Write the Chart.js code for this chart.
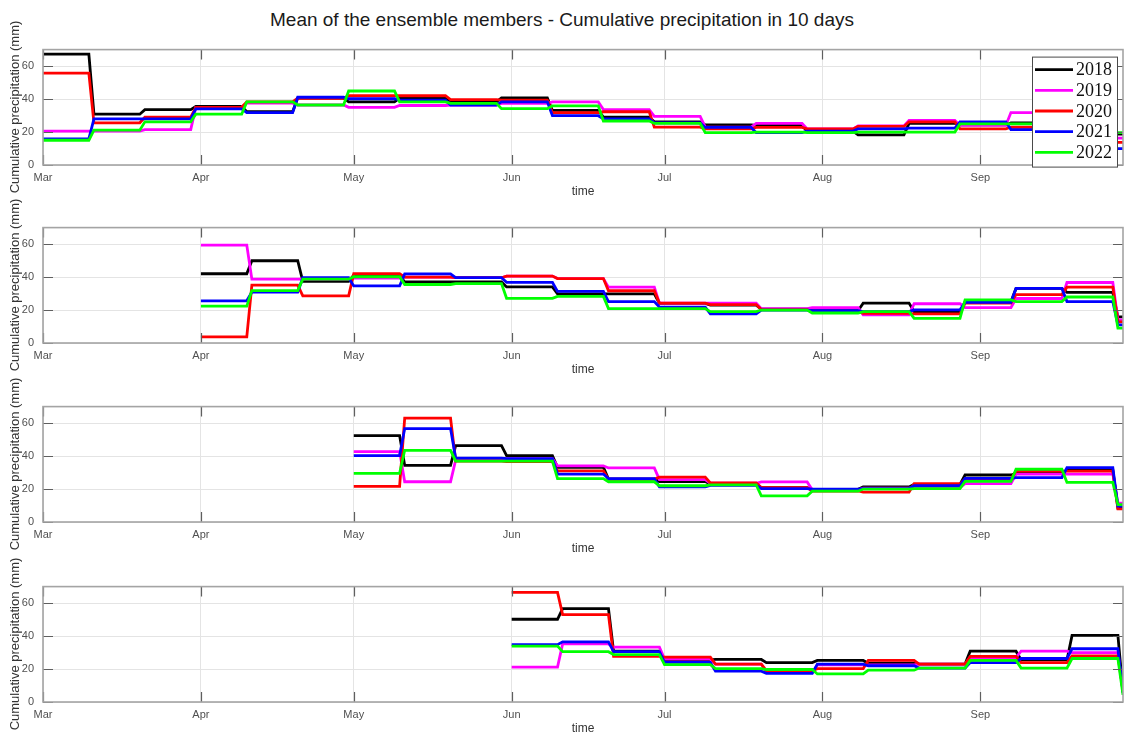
<!DOCTYPE html>
<html lang="en">
<head>
<meta charset="UTF-8">
<title>Mean of the ensemble members - Cumulative precipitation in 10 days</title>
<script src="https://cdn.jsdelivr.net/npm/chart.js@4.4.1/dist/chart.umd.min.js"></script>
<style>
    body {
        margin: 0;
        background: #fff;
        width: 1124px;
        height: 734px;
        overflow: hidden;
        position: relative;
        font-family: 'Liberation Sans', Arial, sans-serif;
    }
    .fig-title {
        position: absolute;
        left: 0;
        top: 9px;
        width: 1124px;
        text-align: center;
        font-size: 19px;
        line-height: 22px;
        color: #1a1a1a;
    }
    .panel {
        position: absolute;
        left: 0;
    }
    .ylabel {
        position: absolute;
        left: -85px;
        width: 200px;
        height: 16px;
        line-height: 16px;
        text-align: center;
        font-size: 13px;
        color: #333;
        transform: rotate(-90deg);
        white-space: nowrap;
    }
</style>
</head>
<body>
<div class="fig-title">Mean of the ensemble members - Cumulative precipitation in 10 days</div>
<canvas id="p1" class="panel" width="1124" height="170" style="top:34px"></canvas>
<canvas id="p2" class="panel" width="1124" height="170" style="top:212px"></canvas>
<canvas id="p3" class="panel" width="1124" height="170" style="top:391px"></canvas>
<canvas id="p4" class="panel" width="1124" height="170" style="top:571px"></canvas>

<script>
const YEARS = ['2018', '2019', '2020', '2021', '2022'];
const COLORS = ['#000000', '#ff00ff', '#ff0000', '#0000ff', '#00ff00'];
const MONTHS = ['Mar', 'Apr', 'May', 'Jun', 'Jul', 'Aug', 'Sep'];
const MONTH_DAYS = [0, 31, 61, 92, 122, 153, 184];   // days since 1 March
const END_DAY = 212;
const PERIOD = 10;
const Y_TICKS = [0, 20, 40, 60];
const Y_TITLE = 'Cumulative precipitation (mm)';

// 10-day totals (mm), forecasts initialised 1 March
const MAR_2018 = [67.3, 30.8, 33.6, 35.5, 32.3, 40.6, 38.3, 40.6, 38.3, 40.7, 33.1, 29.0, 26.2, 24.3, 24.0, 20.6, 18.3, 25.2, 24.3, 25.6, 23.0, 18.7];
const MAR_2019 = [20.6, 20.6, 21.5, 35.0, 37.5, 36.4, 35.0, 36.1, 36.4, 37.4, 38.3, 33.6, 29.5, 23.0, 25.2, 21.9, 23.7, 27.1, 24.0, 31.8, 28.0, 16.3];
const MAR_2020 = [55.7, 25.6, 29.0, 35.0, 38.3, 40.5, 42.0, 42.0, 39.6, 39.3, 31.8, 32.3, 23.0, 21.9, 22.8, 21.9, 23.4, 26.2, 21.9, 22.9, 20.0, 13.7];
const MAR_2021 = [15.9, 28.0, 28.0, 34.0, 31.8, 41.1, 40.2, 39.3, 36.4, 38.3, 29.9, 28.0, 25.6, 22.8, 19.6, 20.6, 21.9, 22.4, 26.2, 21.5, 17.0, 9.9];
const MAR_2022 = [15.0, 21.1, 26.2, 30.8, 38.3, 36.4, 44.9, 38.3, 37.4, 34.2, 35.9, 26.7, 25.2, 19.6, 20.0, 19.6, 20.0, 20.0, 24.9, 24.9, 22.0, 19.6];

// initialised 1 April
const APR_2018 = [42.0, 49.9, 37.4, 41.1, 37.0, 37.0, 34.0, 29.8, 29.8, 24.0, 23.0, 20.5, 19.6, 24.2, 19.0, 25.0, 33.1, 30.7, 15.8];
const APR_2019 = [59.4, 38.7, 38.7, 39.3, 40.0, 39.6, 40.6, 39.1, 33.9, 24.2, 24.2, 20.8, 21.4, 17.1, 23.8, 21.4, 27.0, 36.7, 14.0];
const APR_2020 = [3.7, 35.1, 28.6, 42.0, 40.0, 39.6, 40.6, 39.1, 31.7, 24.2, 23.3, 20.3, 19.0, 18.0, 17.7, 24.2, 29.4, 33.9, 12.8];
const APR_2021 = [25.6, 30.8, 39.6, 34.6, 41.9, 39.6, 36.8, 31.3, 25.1, 21.8, 17.7, 20.0, 19.6, 19.0, 20.1, 24.6, 33.1, 25.1, 11.0];
const APR_2022 = [22.4, 31.8, 38.7, 40.2, 35.5, 36.0, 27.1, 28.3, 20.9, 20.9, 19.0, 20.0, 18.2, 19.0, 14.9, 26.1, 25.1, 27.9, 9.0];

// initialised 1 May
const MAY_2018 = [52.4, 34.3, 46.3, 40.3, 33.2, 26.0, 24.5, 23.0, 20.9, 19.8, 21.3, 22.8, 28.5, 29.5, 31.5, 8.5];
const MAY_2019 = [42.7, 24.4, 37.5, 38.4, 34.1, 32.8, 25.7, 23.5, 24.3, 19.5, 20.5, 20.9, 23.3, 29.1, 29.1, 11.4];
const MAY_2020 = [21.6, 63.0, 37.0, 36.6, 31.0, 26.0, 27.2, 23.7, 20.9, 18.8, 18.1, 23.2, 26.0, 30.8, 30.8, 8.0];
const MAY_2021 = [40.3, 56.7, 38.8, 38.4, 29.1, 26.3, 21.3, 22.2, 20.3, 20.0, 20.3, 22.0, 26.5, 26.9, 33.0, 9.7];
const MAY_2022 = [29.5, 43.5, 36.9, 36.9, 26.3, 24.4, 22.0, 22.5, 15.9, 18.7, 20.0, 20.3, 24.6, 32.0, 24.0, 10.6];

// initialised 1 June
const JUN_2018 = [50.2, 56.7, 30.9, 25.5, 25.8, 23.9, 25.2, 23.5, 23.0, 30.8, 25.5, 40.4, 6.0];
const JUN_2019 = [21.2, 35.2, 33.3, 26.0, 23.0, 17.8, 22.5, 22.5, 23.0, 27.0, 30.8, 30.0, 6.5];
const JUN_2020 = [66.5, 53.0, 27.7, 27.2, 23.0, 19.0, 20.2, 25.2, 23.0, 27.7, 23.9, 28.0, 7.0];
const JUN_2021 = [34.8, 36.5, 30.5, 24.0, 18.7, 17.4, 23.0, 22.0, 20.6, 23.9, 26.4, 32.3, 5.5];
const JUN_2022 = [33.9, 30.5, 28.7, 22.7, 20.2, 19.7, 17.0, 19.3, 20.6, 25.2, 20.6, 26.4, 4.3];

const FONT = "'Liberation Sans', Arial, sans-serif";

// each 10-day value is held flat over its period, joined to the next by a one-day ramp
function toSteps(start, values) {
    const pts = [];
    values.forEach((v, k) => {
        const a = start + k * PERIOD;
        const b = Math.min(a + PERIOD - 1, END_DAY);
        pts.push({ x: a, y: v }, { x: b, y: v });
    });
    return pts;
}

// MATLAB-style box with inward tick marks on all four sides
const axesBox = {
    id: 'axesBox',
    afterDatasetsDraw(chart) {
        const { ctx, chartArea: a, scales: { x, y } } = chart;
        ctx.save();
        ctx.strokeStyle = '#5f5f5f';
        ctx.lineWidth = 1.2;
        ctx.beginPath();
        MONTH_DAYS.forEach(d => {
            const px = Math.round(x.getPixelForValue(d)) + 0.5;
            ctx.moveTo(px, a.top); ctx.lineTo(px, a.top + 10);
            ctx.moveTo(px, a.bottom); ctx.lineTo(px, a.bottom - 10);
        });
        Y_TICKS.forEach(v => {
            const py = Math.round(y.getPixelForValue(v)) + 0.5;
            ctx.moveTo(a.left, py); ctx.lineTo(a.left + 10, py);
            ctx.moveTo(a.right, py); ctx.lineTo(a.right - 10, py);
        });
        ctx.stroke();
        ctx.strokeStyle = '#a4a4a4';
        ctx.lineWidth = 1.6;
        ctx.strokeRect(a.left, a.top, a.right - a.left, a.bottom - a.top);
        ctx.restore();
    }
};

// boxed year legend in the upper right corner
const yearLegend = {
    id: 'yearLegend',
    afterDraw(chart) {
        const { ctx, chartArea: a } = chart;
        const w = 85, h = 110;
        const left = a.right - 6 - w, top = a.top + 7;
        ctx.save();
        ctx.fillStyle = '#ffffff';
        ctx.fillRect(left, top, w, h);
        ctx.strokeStyle = '#4a4a4a';
        ctx.lineWidth = 1;
        ctx.strokeRect(left + 0.5, top + 0.5, w, h);
        ctx.font = "18px 'Liberation Serif', 'Times New Roman', serif";
        ctx.textBaseline = 'middle';
        ctx.fillStyle = '#111';
        chart.data.datasets.forEach((ds, i) => {
            const cy = top + 13 + i * 20.7;
            ctx.strokeStyle = ds.borderColor;
            ctx.lineWidth = 2.8;
            ctx.beginPath();
            ctx.moveTo(left + 3, cy);
            ctx.lineTo(left + 41, cy);
            ctx.stroke();
            ctx.fillText(ds.label, left + 44, cy + 1);
        });
        ctx.restore();
    }
};

function makePanel(id, startDay, series, withLegend) {
    const canvas = document.getElementById(id);
    const datasets = series.map((values, i) => ({
        label: YEARS[i],
        data: toSteps(startDay, values),
        borderColor: COLORS[i],
        borderWidth: 2.8,
        pointRadius: 0,
        tension: 0,
        fill: false,
        order: series.length - i
    }));

    const chart = new Chart(canvas, {
        type: 'line',
        data: { datasets },
        options: {
            responsive: false,
            animation: false,
            events: [],
            layout: { padding: { top: 6, right: 1, bottom: 0, left: 0 } },
            plugins: {
                legend: { display: false },
                tooltip: { enabled: false }
            },
            scales: {
                x: {
                    type: 'linear',
                    min: 0,
                    max: END_DAY,
                    afterBuildTicks: axis => { axis.ticks = MONTH_DAYS.map(v => ({ value: v })); },
                    afterFit: axis => { axis.height = 39; },
                    ticks: {
                        callback: (value, index) => MONTHS[index],
                        autoSkip: false,
                        maxRotation: 0,
                        padding: 6,
                        color: '#505050',
                        font: { family: FONT, size: 11 }
                    },
                    grid: { color: '#e4e4e4', drawTicks: false },
                    border: { display: false },
                    title: {
                        display: true,
                        text: 'time',
                        color: '#333',
                        font: { family: FONT, size: 12 },
                        padding: { top: 0, bottom: 5 }
                    }
                },
                y: {
                    min: 0,
                    max: 70,
                    afterBuildTicks: axis => { axis.ticks = Y_TICKS.map(v => ({ value: v })); },
                    afterFit: axis => { axis.width = 43; },
                    ticks: {
                        padding: 9,
                        color: '#505050',
                        font: { family: FONT, size: 11 }
                    },
                    grid: { color: '#e4e4e4', drawTicks: false },
                    border: { display: false }
                }
            }
        },
        plugins: withLegend ? [axesBox, yearLegend] : [axesBox]
    });

    // the axis label is longer than the axes are tall, so it sits outside the canvas
    const label = document.createElement('div');
    label.className = 'ylabel';
    label.textContent = Y_TITLE;
    const mid = canvas.offsetTop + (chart.chartArea.top + chart.chartArea.bottom) / 2;
    label.style.top = (mid - 8) + 'px';
    document.body.appendChild(label);
}

makePanel('p1', MONTH_DAYS[0], [MAR_2018, MAR_2019, MAR_2020, MAR_2021, MAR_2022], true);
makePanel('p2', MONTH_DAYS[1], [APR_2018, APR_2019, APR_2020, APR_2021, APR_2022], false);
makePanel('p3', MONTH_DAYS[2], [MAY_2018, MAY_2019, MAY_2020, MAY_2021, MAY_2022], false);
makePanel('p4', MONTH_DAYS[3], [JUN_2018, JUN_2019, JUN_2020, JUN_2021, JUN_2022], false);
</script>
</body>
</html>
